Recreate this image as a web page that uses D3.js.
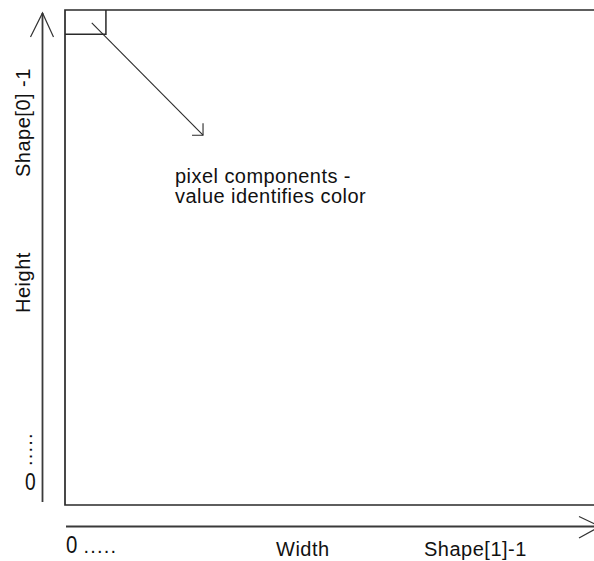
<!DOCTYPE html>
<html>
<head>
<meta charset="utf-8">
<script src="https://cdn.jsdelivr.net/npm/d3@7"></script>
<style>
  html, body { margin: 0; padding: 0; background: #fff; }
  svg { display: block; }
  text { font-family: "Liberation Sans", Arial, sans-serif; fill: #111; }
</style>
</head>
<body>
<svg id="chart" width="594" height="561"></svg>
<script>
// ---- content ----
const xAxisLabels = ["0", ".....", "Width", "Shape[1]-1"];
const yAxisLabels = ["0", ".....", "Height", "Shape[0] -1"];
const noteLines = ["pixel components -", "value identifies color"];
// image grid extents (fractions of the array) and the highlighted pixel cell
const gridExtent = [0, 1];
const cellSize = [0.0765, 0.049];   // [col fraction, row fraction]

const svg = d3.select("#chart");

// scales: image columns -> x, image rows -> y (row 0 at the top)
const x = d3.scaleLinear().domain(gridExtent).range([65, 600]);
const y = d3.scaleLinear().domain(gridExtent).range([10, 505]);

const stroke = "#2a2a2a";

// main image frame (left, top, bottom; right runs off the page)
svg.append("path")
  .attr("d", `M${x(1)},${y(0)} H${x(0)} V${y(1)} H${x(1)}`)
  .attr("fill", "none").attr("stroke", stroke).attr("stroke-width", 1.7);

// highlighted pixel cell
svg.append("path")
  .attr("d", `M${x(0)},${y(cellSize[1])} H${x(cellSize[0])} V${y(0)}`)
  .attr("fill", "none").attr("stroke", stroke).attr("stroke-width", 1.5);

// diagonal arrow pointing from cell to the note
const a0 = [x(0.05), y(0.026)], a1 = [x(0.258), y(0.253)];
svg.append("line")
  .attr("x1", a0[0]).attr("y1", a0[1]).attr("x2", a1[0]).attr("y2", a1[1])
  .attr("stroke", stroke).attr("stroke-width", 1.1);
svg.append("path")
  .attr("d", `M${a1[0] - 11},${a1[1]} H${a1[0]} V${a1[1] - 12}`)
  .attr("fill", "none").attr("stroke", stroke).attr("stroke-width", 1.1);

// note text
const note = svg.append("text")
  .attr("x", 175).attr("y", 183)
  .attr("font-size", 20).attr("letter-spacing", 0.45);
noteLines.forEach((t, i) => {
  note.append("tspan").attr("x", 175).attr("y", 183 + i * 20).text(t);
});

// ---- vertical axis (Height) ----
const ax = 42.5;
svg.append("line")
  .attr("x1", ax).attr("y1", 13).attr("x2", ax).attr("y2", 502)
  .attr("stroke", "#3a3a3a").attr("stroke-width", 1.8);
svg.append("path")
  .attr("d", `M${ax - 12},37 L${ax},13 L${ax + 11},37`)
  .attr("fill", "none").attr("stroke", "#333").attr("stroke-width", 1.2);

// upright "0" at bottom (narrow glyph)
svg.append("text").attr("transform", "translate(25,490) scale(0.8,1)")
  .attr("font-size", 24).text(yAxisLabels[0]);
// rotated labels
svg.append("text").attr("transform", "translate(32,466) rotate(-90)")
  .attr("font-size", 20).attr("letter-spacing", 1.2).attr("fill", "#333").text(yAxisLabels[1]);
svg.append("text").attr("transform", "translate(30,313) rotate(-90)")
  .attr("font-size", 20).attr("letter-spacing", 0.5).text(yAxisLabels[2]);
svg.append("text").attr("transform", "translate(30,177) rotate(-90)")
  .attr("font-size", 20).attr("letter-spacing", 0.5).text(yAxisLabels[3]);

// ---- horizontal axis (Width) ----
const ay = 526.5;
svg.append("line")
  .attr("x1", 66).attr("y1", ay).attr("x2", 598).attr("y2", ay)
  .attr("stroke", "#3a3a3a").attr("stroke-width", 1.8);
svg.append("path")
  .attr("d", `M579,516.5 L600,${ay} L579,538`)
  .attr("fill", "none").attr("stroke", "#333").attr("stroke-width", 1.2);

svg.append("text").attr("transform", "translate(66,553) scale(0.85,1)")
  .attr("font-size", 24).text(xAxisLabels[0]);
svg.append("text").attr("x", 83.5).attr("y", 553)
  .attr("font-size", 20).attr("letter-spacing", 1.2).attr("fill", "#333").text(xAxisLabels[1]);
svg.append("text").attr("x", 276).attr("y", 556)
  .attr("font-size", 20).attr("letter-spacing", 0.5).text(xAxisLabels[2]);
svg.append("text").attr("x", 424).attr("y", 556)
  .attr("font-size", 20).attr("letter-spacing", 0.5).text(xAxisLabels[3]);
</script>
</body>
</html>
